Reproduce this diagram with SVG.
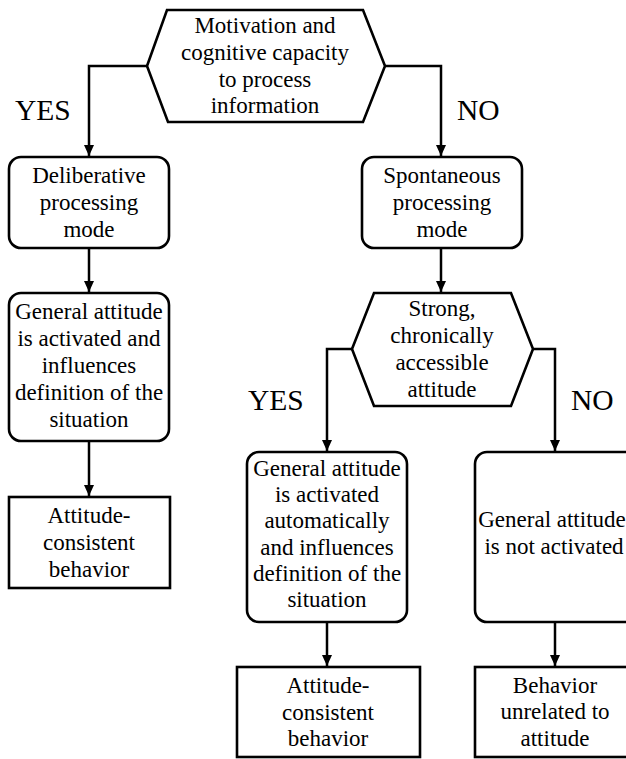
<svg xmlns="http://www.w3.org/2000/svg" width="626" height="759" viewBox="0 0 626 759">
<style>
.shape{fill:#fff;stroke:#000;stroke-width:2.6;stroke-linejoin:miter}
.conn{fill:none;stroke:#000;stroke-width:2.5}
.t{font-size:23px;fill:#000;text-anchor:middle}
.lbl{font-size:29.5px;fill:#000}
</style>
<defs>
<marker id="arrow" markerUnits="userSpaceOnUse" markerWidth="12" markerHeight="12" viewBox="0 0 12 12" refX="11" refY="6" orient="auto">
<path d="M0,1 L11,6 L0,11 z" fill="#000"/>
</marker>
</defs>
<rect width="626" height="759" fill="#fff"/>
<g font-family="'Liberation Serif', 'DejaVu Serif', 'Times New Roman', serif">
<g id="connectors">
<polyline class="conn" points="147,66 89,66 89,156" marker-end="url(#arrow)"/>
<polyline class="conn" points="384,66 441,66 441,156" marker-end="url(#arrow)"/>
<line class="conn" x1="89" y1="248" x2="89" y2="292" marker-end="url(#arrow)"/>
<line class="conn" x1="89" y1="441" x2="89" y2="496" marker-end="url(#arrow)"/>
<line class="conn" x1="441" y1="248" x2="441" y2="292" marker-end="url(#arrow)"/>
<polyline class="conn" points="352,349 327,349 327,451" marker-end="url(#arrow)"/>
<polyline class="conn" points="532,349 555,349 555,451" marker-end="url(#arrow)"/>
<line class="conn" x1="327" y1="622" x2="327" y2="666" marker-end="url(#arrow)"/>
<line class="conn" x1="555" y1="622" x2="555" y2="666" marker-end="url(#arrow)"/>
<text class="lbl" x="15" y="120">YES</text>
<text class="lbl" x="457" y="120">NO</text>
<text class="lbl" x="248" y="410">YES</text>
<text class="lbl" x="571" y="410">NO</text>
</g>
<g id="motivation">
<polygon class="shape" points="167,10 363,10 385,66 363,122 168,122 147,66"/>
<text class="t" x="265" y="33">Motivation and</text>
<text class="t" x="265" y="60">cognitive capacity</text>
<text class="t" x="265" y="87">to process</text>
<text class="t" x="265" y="113">information</text>
</g>
<g id="deliberative">
<rect class="shape" x="9" y="157" width="160" height="91" rx="12"/>
<text class="t" x="89" y="183">Deliberative</text>
<text class="t" x="89" y="210">processing</text>
<text class="t" x="89" y="237">mode</text>
</g>
<g id="spontaneous">
<rect class="shape" x="362" y="157" width="160" height="91" rx="12"/>
<text class="t" x="442" y="183">Spontaneous</text>
<text class="t" x="442" y="210">processing</text>
<text class="t" x="442" y="237">mode</text>
</g>
<g id="activated-left">
<rect class="shape" x="9" y="293" width="160" height="148" rx="12"/>
<text class="t" x="89" y="319">General attitude</text>
<text class="t" x="89" y="346">is activated and</text>
<text class="t" x="89" y="373">influences</text>
<text class="t" x="89" y="400">definition of the</text>
<text class="t" x="89" y="427">situation</text>
</g>
<g id="behavior-left">
<rect class="shape" x="9" y="497" width="161" height="91"/>
<text class="t" x="89" y="523">Attitude-</text>
<text class="t" x="89" y="550">consistent</text>
<text class="t" x="89" y="577">behavior</text>
</g>
<g id="strong">
<polygon class="shape" points="374,293 511,293 533,349 511,406 374,406 352,349"/>
<text class="t" x="442" y="316">Strong,</text>
<text class="t" x="442" y="343">chronically</text>
<text class="t" x="442" y="370">accessible</text>
<text class="t" x="442" y="397">attitude</text>
</g>
<g id="activated-auto">
<rect class="shape" x="247" y="452" width="160" height="170" rx="12"/>
<text class="t" x="327" y="476">General attitude</text>
<text class="t" x="327" y="502">is activated</text>
<text class="t" x="327" y="528">automatically</text>
<text class="t" x="327" y="555">and influences</text>
<text class="t" x="327" y="581">definition of the</text>
<text class="t" x="327" y="607">situation</text>
</g>
<g id="not-activated">
<rect class="shape" x="475" y="452" width="162" height="170" rx="12"/>
<text class="t" x="552" y="527">General attitude</text>
<text class="t" x="554" y="554">is not activated</text>
</g>
<g id="behavior-middle">
<rect class="shape" x="237" y="667" width="183" height="90"/>
<text class="t" x="328" y="693">Attitude-</text>
<text class="t" x="328" y="720">consistent</text>
<text class="t" x="328" y="746">behavior</text>
</g>
<g id="behavior-unrelated">
<rect class="shape" x="475" y="667" width="162" height="90"/>
<text class="t" x="555" y="693">Behavior</text>
<text class="t" x="555" y="719">unrelated to</text>
<text class="t" x="555" y="746">attitude</text>
</g>
</g>
</svg>
